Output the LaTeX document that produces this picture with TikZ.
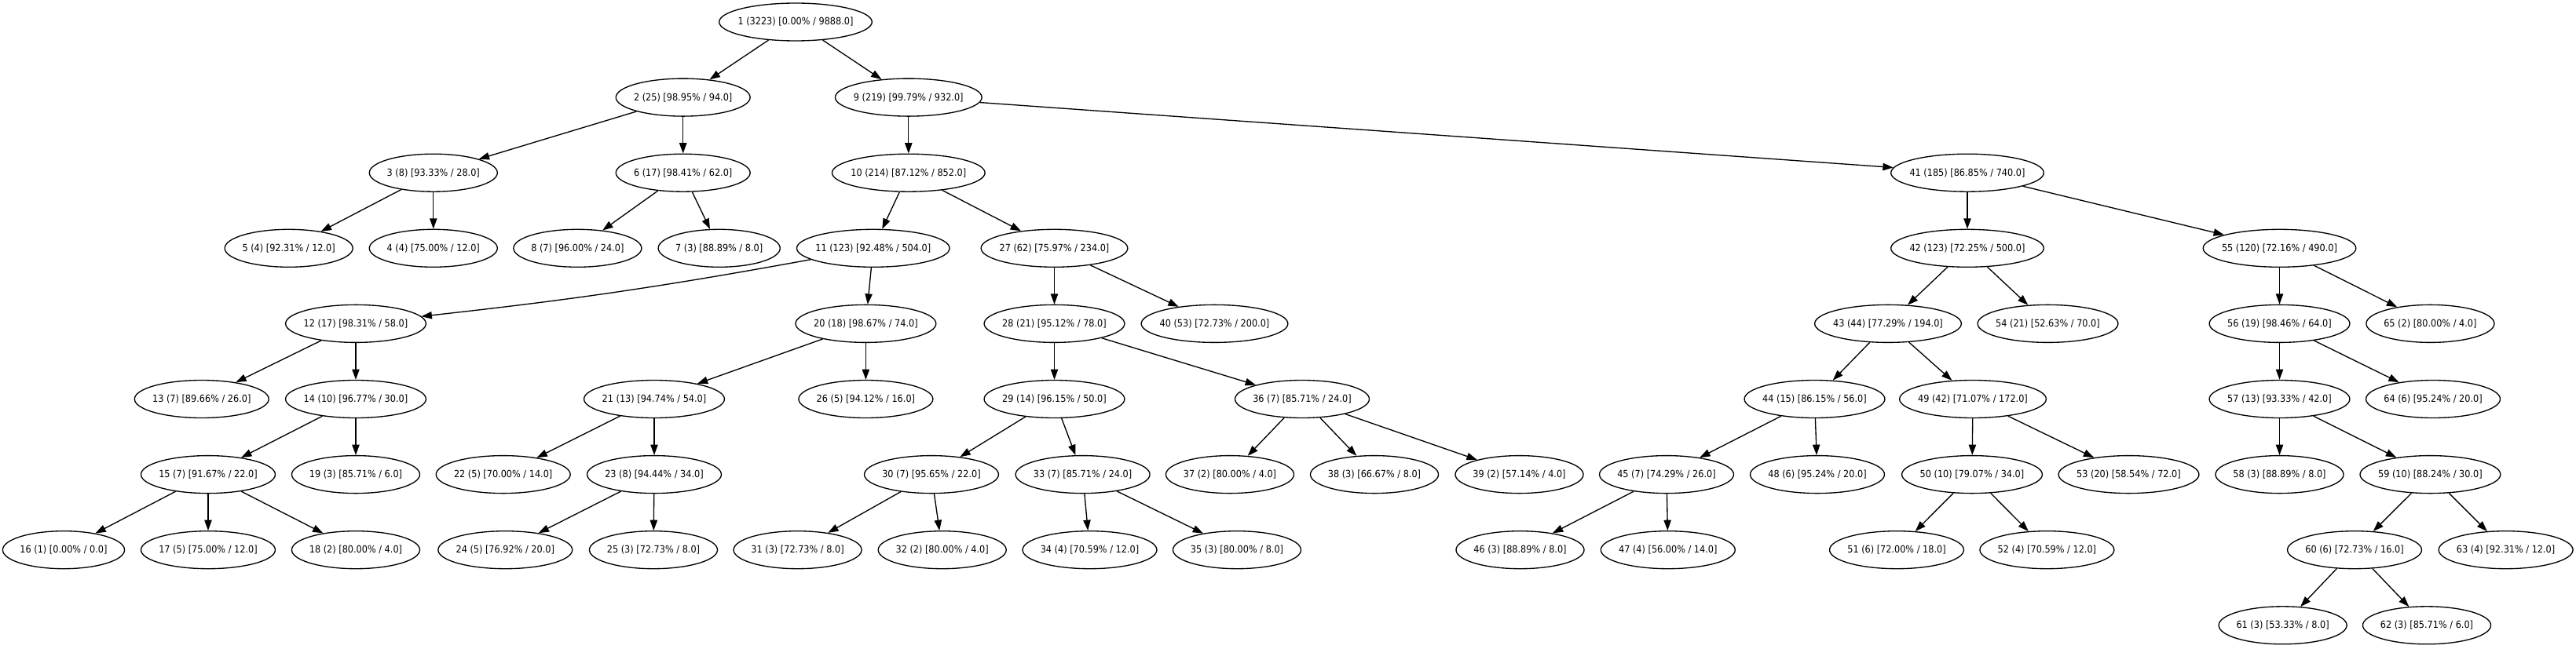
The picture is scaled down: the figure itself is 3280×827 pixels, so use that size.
\documentclass[tikz,border=0pt]{standalone}
\usepackage{fontspec}
\usetikzlibrary{arrows.meta,shapes.geometric}
\newfontfamily\gvfam{DejaVu Sans}[FakeStretch=0.9]
\newcommand\gvf{\gvfam\fontsize{9.4pt}{11pt}\selectfont}
\newlength\gvw
\newcommand\gvlbl[1]{%
  \settowidth\gvw{#1}%
  \gvw=1.1\gvw \advance\gvw by 24.75pt \gvw=0.70711\gvw
  \makebox[\gvw]{#1}}
\newcommand\gvnode[3]{%
  \node[gv] (n#1) at (#2) {\gvlbl{#3}};}
\tikzset{
  gv/.style={ellipse, draw, line width=1pt, inner sep=0pt, minimum height=36pt, font=\gvf},
  edge/.style={draw, line width=1pt, -{Triangle[length=10pt,width=7pt]}}
}
\begin{document}
\begin{tikzpicture}[x=0.75pt,y=-0.75pt]
\useasboundingbox (0,0) rectangle (3280,827);
\gvnode{1}{1013,28}{1 (3223) [0.00\% / 9888.0]}
\gvnode{2}{869.7,124.1}{2 (25) [98.95\% / 94.0]}
\gvnode{9}{1156.8,124.1}{9 (219) [99.79\% / 932.0]}
\gvnode{3}{551.8,220.2}{3 (8) [93.33\% / 28.0]}
\gvnode{6}{869.7,220.2}{6 (17) [98.41\% / 62.0]}
\gvnode{10}{1156.8,220.2}{10 (214) [87.12\% / 852.0]}
\gvnode{41}{2505,220.2}{41 (185) [86.85\% / 740.0]}
\gvnode{5}{367.7,316.3}{5 (4) [92.31\% / 12.0]}
\gvnode{4}{551.8,316.3}{4 (4) [75.00\% / 12.0]}
\gvnode{8}{735.4,316.3}{8 (7) [96.00\% / 24.0]}
\gvnode{7}{915.7,316.3}{7 (3) [88.89\% / 8.0]}
\gvnode{11}{1111.8,316.3}{11 (123) [92.48\% / 504.0]}
\gvnode{27}{1342.5,316.3}{27 (62) [75.97\% / 234.0]}
\gvnode{42}{2505,316.3}{42 (123) [72.25\% / 500.0]}
\gvnode{55}{2902.5,316.3}{55 (120) [72.16\% / 490.0]}
\gvnode{12}{453,412.4}{12 (17) [98.31\% / 58.0]}
\gvnode{20}{1102.4,412.4}{20 (18) [98.67\% / 74.0]}
\gvnode{28}{1342.5,412.4}{28 (21) [95.12\% / 78.0]}
\gvnode{40}{1546.5,412.4}{40 (53) [72.73\% / 200.0]}
\gvnode{43}{2404,412.4}{43 (44) [77.29\% / 194.0]}
\gvnode{54}{2607.5,412.4}{54 (21) [52.63\% / 70.0]}
\gvnode{56}{2902.5,412.4}{56 (19) [98.46\% / 64.0]}
\gvnode{65}{3094.4,412.4}{65 (2) [80.00\% / 4.0]}
\gvnode{13}{256.8,508.5}{13 (7) [89.66\% / 26.0]}
\gvnode{14}{453,508.5}{14 (10) [96.77\% / 30.0]}
\gvnode{21}{833,508.5}{21 (13) [94.74\% / 54.0]}
\gvnode{26}{1102.4,508.5}{26 (5) [94.12\% / 16.0]}
\gvnode{29}{1342.5,508.5}{29 (14) [96.15\% / 50.0]}
\gvnode{36}{1658,508.5}{36 (7) [85.71\% / 24.0]}
\gvnode{44}{2310.5,508.5}{44 (15) [86.15\% / 56.0]}
\gvnode{49}{2512,508.5}{49 (42) [71.07\% / 172.0]}
\gvnode{57}{2902.5,508.5}{57 (13) [93.33\% / 42.0]}
\gvnode{64}{3098,508.5}{64 (6) [95.24\% / 20.0]}
\gvnode{15}{265,604.6}{15 (7) [91.67\% / 22.0]}
\gvnode{19}{453,604.6}{19 (3) [85.71\% / 6.0]}
\gvnode{22}{640.7,604.6}{22 (5) [70.00\% / 14.0]}
\gvnode{23}{833,604.6}{23 (8) [94.44\% / 34.0]}
\gvnode{30}{1186,604.6}{30 (7) [95.65\% / 22.0]}
\gvnode{33}{1378.6,604.6}{33 (7) [85.71\% / 24.0]}
\gvnode{37}{1566,604.6}{37 (2) [80.00\% / 4.0]}
\gvnode{38}{1750,604.6}{38 (3) [66.67\% / 8.0]}
\gvnode{39}{1934.5,604.6}{39 (2) [57.14\% / 4.0]}
\gvnode{45}{2122,604.6}{45 (7) [74.29\% / 26.0]}
\gvnode{48}{2314,604.6}{48 (6) [95.24\% / 20.0]}
\gvnode{50}{2511,604.6}{50 (10) [79.07\% / 34.0]}
\gvnode{53}{2710.5,604.6}{53 (20) [58.54\% / 72.0]}
\gvnode{58}{2902.5,604.6}{58 (3) [88.89\% / 8.0]}
\gvnode{59}{3094.4,604.6}{59 (10) [88.24\% / 30.0]}
\gvnode{16}{81,700.7}{16 (1) [0.00\% / 0.0]}
\gvnode{17}{265,700.7}{17 (5) [75.00\% / 12.0]}
\gvnode{18}{453,700.7}{18 (2) [80.00\% / 4.0]}
\gvnode{24}{643.3,700.7}{24 (5) [76.92\% / 20.0]}
\gvnode{25}{832,700.7}{25 (3) [72.73\% / 8.0]}
\gvnode{31}{1015.6,700.7}{31 (3) [72.73\% / 8.0]}
\gvnode{32}{1199.7,700.7}{32 (2) [80.00\% / 4.0]}
\gvnode{34}{1387.5,700.7}{34 (4) [70.59\% / 12.0]}
\gvnode{35}{1575,700.7}{35 (3) [80.00\% / 8.0]}
\gvnode{46}{1935.5,700.7}{46 (3) [88.89\% / 8.0]}
\gvnode{47}{2123.8,700.7}{47 (4) [56.00\% / 14.0]}
\gvnode{51}{2415,700.7}{51 (6) [72.00\% / 18.0]}
\gvnode{52}{2606.4,700.7}{52 (4) [70.59\% / 12.0]}
\gvnode{60}{2998,700.7}{60 (6) [72.73\% / 16.0]}
\gvnode{63}{3190.6,700.7}{63 (4) [92.31\% / 12.0]}
\gvnode{61}{2906.6,796.8}{61 (3) [53.33\% / 8.0]}
\gvnode{62}{3090,796.8}{62 (3) [85.71\% / 6.0]}
\foreach \a/\b in {1/2,1/9,2/3,2/6,3/5,3/4,6/8,6/7,9/10,9/41,10/11,10/27,
  11/20,12/13,12/14,14/15,14/19,15/16,15/17,15/18,20/21,20/26,21/22,21/23,
  23/24,23/25,27/28,27/40,28/29,28/36,29/30,29/33,30/31,30/32,33/34,33/35,
  36/37,36/38,36/39,41/42,41/55,42/43,42/54,43/44,43/49,44/45,44/48,45/46,
  45/47,49/50,49/53,50/51,50/52,55/56,55/65,56/57,56/64,57/58,57/59,59/60,
  59/63,60/61,60/62}
  \draw[edge] (n\a) -- (n\b);
\draw[edge] (n11) to[bend left=2] (n12);
\end{tikzpicture}
\end{document}
